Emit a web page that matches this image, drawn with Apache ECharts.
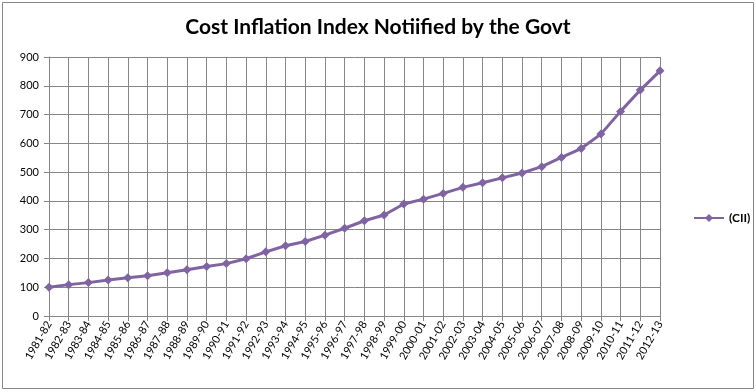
<!DOCTYPE html>
<html><head><meta charset="utf-8">
<script src="https://cdn.jsdelivr.net/npm/echarts@6/dist/echarts.min.js"></script>
<style>html,body{margin:0;padding:0;background:#fff}#c{width:756px;height:392px}</style>
</head><body><div id="c"></div>
<script>
const categories = ['1981-82','1982-83','1983-84','1984-85','1985-86','1986-87','1987-88','1988-89','1989-90','1990-91','1991-92','1992-93','1993-94','1994-95','1995-96','1996-97','1997-98','1998-99','1999-00','2000-01','2001-02','2002-03','2003-04','2004-05','2005-06','2006-07','2007-08','2008-09','2009-10','2010-11','2011-12','2012-13'];
const cii = [100,109,116,125,133,140,150,161,172,182,199,223,244,259,281,305,331,351,389,406,426,447,463,480,497,519,551,582,632,711,785,852];
const seriesName = '(CII)';
const titleText = 'Cost Inflation Index Notiified by the Govt';

const chart = echarts.init(document.getElementById('c'));
chart.setOption({
  animation: false,
  backgroundColor: '#fff',
  graphic: [{type:'rect', shape:{x:2.5,y:2.5,width:751,height:386}, style:{fill:'none', stroke:'#868686', lineWidth:1}}],
  title: {text: titleText, left: 'center', top: 12, textStyle:{fontFamily:'Lato', fontWeight:'bold', fontSize:21, color:'#000'}},
  legend: {data:[seriesName], left: 688, top: 207, itemWidth: 30, itemHeight: 10, itemGap: 4,
    textStyle:{fontFamily:'Lato', fontWeight:'bold', fontSize:12, color:'#000'}},
  grid: {left: 49, right: 96, top: 57, bottom: 76},
  xAxis: {type:'category', data: categories, boundaryGap:false,
    axisLine:{lineStyle:{color:'#868686'}},
    axisTick:{show:true, length:5, lineStyle:{color:'#868686'}},
    splitLine:{show:true, lineStyle:{color:'#868686'}},
    axisLabel:{rotate:60, interval:0, fontFamily:'Lato', fontSize:11, color:'#000', margin:6}},
  yAxis: {type:'value', min:0, max:900, interval:100,
    axisLine:{show:true, lineStyle:{color:'#868686'}},
    axisTick:{show:true, length:5, lineStyle:{color:'#868686'}},
    splitLine:{show:true, lineStyle:{color:'#868686'}},
    axisLabel:{fontFamily:'Lato', fontSize:11, color:'#000', margin:10}},
  series: [{name: seriesName, type:'line', data: cii, symbol:'diamond', symbolSize:9,
    lineStyle:{color:'#8064A2', width:3}, itemStyle:{color:'#8064A2'}}]
});
</script></body></html>
